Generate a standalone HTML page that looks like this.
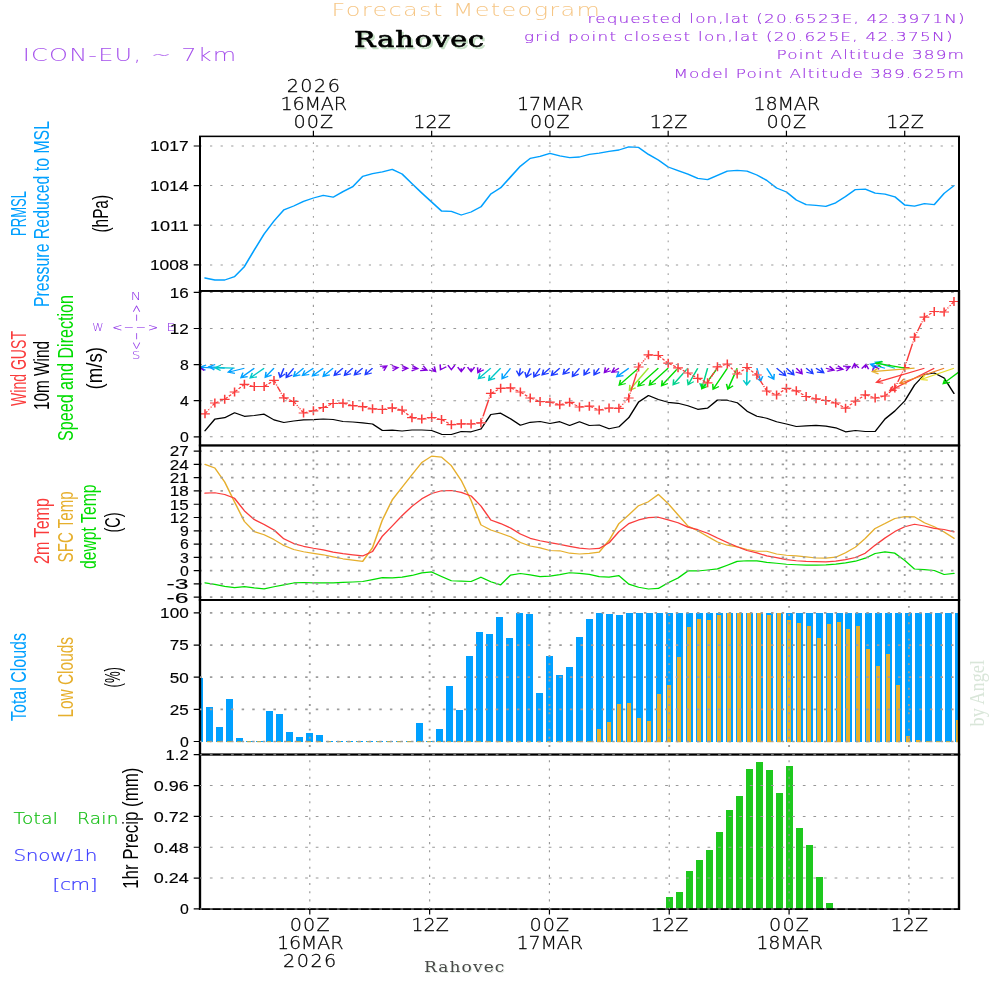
<!DOCTYPE html>
<html lang="en"><head><meta charset="utf-8"><title>Forecast Meteogram - Rahovec</title>
<style>html,body{margin:0;padding:0;background:#fff}body{width:1000px;height:1000px;overflow:hidden}svg{display:block}text{white-space:pre}</style>
</head><body>
<svg width="1000" height="1000" viewBox="0 0 1000 1000" role="img" aria-label="Forecast Meteogram Rahovec">
<rect width="1000" height="1000" fill="#fff"/>
<defs>
<clipPath id="c0"><rect x="200" y="136.36" width="759" height="154.54"/></clipPath>
<clipPath id="c1"><rect x="200" y="290.9" width="759" height="154.55"/></clipPath>
<clipPath id="c2"><rect x="200" y="445.45" width="759" height="154.55"/></clipPath>
<clipPath id="c3"><rect x="200" y="600" width="759" height="154.54"/></clipPath>
<clipPath id="c4"><rect x="200" y="754.54" width="759" height="154.54"/></clipPath>
<filter id="sh1" x="-10%" y="-30%" width="120%" height="170%" color-interpolation-filters="sRGB"><feOffset in="SourceAlpha" dx="2.2" dy="1.9" result="o"/><feFlood flood-color="#c4dfc4"/><feComposite in2="o" operator="in" result="s"/><feMerge><feMergeNode in="s"/><feMergeNode in="SourceGraphic"/></feMerge></filter>
<filter id="sh2" x="-10%" y="-30%" width="120%" height="170%" color-interpolation-filters="sRGB"><feOffset in="SourceAlpha" dx="1.1" dy="1" result="o"/><feFlood flood-color="#dfeadf"/><feComposite in2="o" operator="in" result="s"/><feMerge><feMergeNode in="s"/><feMergeNode in="SourceGraphic"/></feMerge></filter>
</defs>
<g id="titles">
<text transform="translate(331.5 16) scale(1.35 1)" font-family='"DejaVu Sans Light", "DejaVu Sans", "Liberation Sans", sans-serif' font-size="17.8" fill="#f6c685" textLength="198.89" lengthAdjust="spacing">Forecast Meteogram</text>
<g filter="url(#sh1)"><text transform="translate(354.1 47.3) scale(1.24 1)" font-family='"DejaVu Serif", "Liberation Serif", serif' font-size="23" fill="#000" textLength="104.84" lengthAdjust="spacing" stroke="#000" stroke-width="0.7" stroke-linejoin="round">Rahovec</text></g>
<text transform="translate(22.8 61.2) scale(1.4 1)" font-family='"DejaVu Sans Light", "DejaVu Sans", "Liberation Sans", sans-serif' font-size="17.2" fill="#a550ec" textLength="152.5" lengthAdjust="spacing">ICON-EU, ~ 7km</text>
<text transform="translate(587.5 22.7) scale(1.3 1)" font-family='"DejaVu Sans Light", "DejaVu Sans", "Liberation Sans", sans-serif' font-size="13" fill="#9c34e2" textLength="290" lengthAdjust="spacing" stroke="#9c34e2" stroke-width="0.15" stroke-linejoin="round">requested lon,lat (20.6523E, 42.3971N)</text>
<text transform="translate(524 41) scale(1.3 1)" font-family='"DejaVu Sans Light", "DejaVu Sans", "Liberation Sans", sans-serif' font-size="13" fill="#9c34e2" textLength="329.62" lengthAdjust="spacing" stroke="#9c34e2" stroke-width="0.15" stroke-linejoin="round">grid point closest lon,lat (20.625E, 42.375N)</text>
<text transform="translate(776.5 59.4) scale(1.3 1)" font-family='"DejaVu Sans Light", "DejaVu Sans", "Liberation Sans", sans-serif' font-size="13" fill="#9c34e2" textLength="144.23" lengthAdjust="spacing" stroke="#9c34e2" stroke-width="0.15" stroke-linejoin="round">Point Altitude 389m</text>
<text transform="translate(673.5 77.6) scale(1.3 1)" font-family='"DejaVu Sans Light", "DejaVu Sans", "Liberation Sans", sans-serif' font-size="13" fill="#9c34e2" textLength="223.46" lengthAdjust="spacing" stroke="#9c34e2" stroke-width="0.15" stroke-linejoin="round">Model Point Altitude 389.625m</text>
</g>
<g id="time-top">
<text transform="translate(293.4 128) scale(1.08 1)" font-family='"DejaVu Sans Light", "DejaVu Sans", "Liberation Sans", sans-serif' font-size="17.8" fill="#000" textLength="36.85" lengthAdjust="spacing" stroke="#000" stroke-width="0.25" stroke-linejoin="round">00Z</text>
<text transform="translate(280.5 110) scale(1.08 1)" font-family='"DejaVu Sans Light", "DejaVu Sans", "Liberation Sans", sans-serif' font-size="17.8" fill="#000" textLength="61.67" lengthAdjust="spacing" stroke="#000" stroke-width="0.25" stroke-linejoin="round">16MAR</text>
<text transform="translate(413.26 128) scale(1.08 1)" font-family='"DejaVu Sans Light", "DejaVu Sans", "Liberation Sans", sans-serif' font-size="17.8" fill="#000" textLength="34.81" lengthAdjust="spacing" stroke="#000" stroke-width="0.25" stroke-linejoin="round">12Z</text>
<text transform="translate(529.92 128) scale(1.08 1)" font-family='"DejaVu Sans Light", "DejaVu Sans", "Liberation Sans", sans-serif' font-size="17.8" fill="#000" textLength="36.85" lengthAdjust="spacing" stroke="#000" stroke-width="0.25" stroke-linejoin="round">00Z</text>
<text transform="translate(517.02 110) scale(1.08 1)" font-family='"DejaVu Sans Light", "DejaVu Sans", "Liberation Sans", sans-serif' font-size="17.8" fill="#000" textLength="61.67" lengthAdjust="spacing" stroke="#000" stroke-width="0.25" stroke-linejoin="round">17MAR</text>
<text transform="translate(649.78 128) scale(1.08 1)" font-family='"DejaVu Sans Light", "DejaVu Sans", "Liberation Sans", sans-serif' font-size="17.8" fill="#000" textLength="34.81" lengthAdjust="spacing" stroke="#000" stroke-width="0.25" stroke-linejoin="round">12Z</text>
<text transform="translate(766.44 128) scale(1.08 1)" font-family='"DejaVu Sans Light", "DejaVu Sans", "Liberation Sans", sans-serif' font-size="17.8" fill="#000" textLength="36.85" lengthAdjust="spacing" stroke="#000" stroke-width="0.25" stroke-linejoin="round">00Z</text>
<text transform="translate(753.54 110) scale(1.08 1)" font-family='"DejaVu Sans Light", "DejaVu Sans", "Liberation Sans", sans-serif' font-size="17.8" fill="#000" textLength="61.67" lengthAdjust="spacing" stroke="#000" stroke-width="0.25" stroke-linejoin="round">18MAR</text>
<text transform="translate(886.3 128) scale(1.08 1)" font-family='"DejaVu Sans Light", "DejaVu Sans", "Liberation Sans", sans-serif' font-size="17.8" fill="#000" textLength="34.81" lengthAdjust="spacing" stroke="#000" stroke-width="0.25" stroke-linejoin="round">12Z</text>
<text transform="translate(286.7 92) scale(1.08 1)" font-family='"DejaVu Sans Light", "DejaVu Sans", "Liberation Sans", sans-serif' font-size="17.8" fill="#000" textLength="49.26" lengthAdjust="spacing" stroke="#000" stroke-width="0.25" stroke-linejoin="round">2026</text>
<path d="M313.4 130.8V136M431.66 130.8V136M549.92 130.8V136M668.18 130.8V136M786.44 130.8V136M904.7 130.8V136" stroke="#000" stroke-width="1.2" fill="none"/>
</g>
<g id="time-bottom">
<text transform="translate(289.8 931) scale(1.08 1)" font-family='"DejaVu Sans Light", "DejaVu Sans", "Liberation Sans", sans-serif' font-size="17.8" fill="#000" textLength="36.85" lengthAdjust="spacing" stroke="#000" stroke-width="0.25" stroke-linejoin="round">00Z</text>
<text transform="translate(276.9 949) scale(1.08 1)" font-family='"DejaVu Sans Light", "DejaVu Sans", "Liberation Sans", sans-serif' font-size="17.8" fill="#000" textLength="61.67" lengthAdjust="spacing" stroke="#000" stroke-width="0.25" stroke-linejoin="round">16MAR</text>
<text transform="translate(411.22 931) scale(1.08 1)" font-family='"DejaVu Sans Light", "DejaVu Sans", "Liberation Sans", sans-serif' font-size="17.8" fill="#000" textLength="34.81" lengthAdjust="spacing" stroke="#000" stroke-width="0.25" stroke-linejoin="round">12Z</text>
<text transform="translate(529.44 931) scale(1.08 1)" font-family='"DejaVu Sans Light", "DejaVu Sans", "Liberation Sans", sans-serif' font-size="17.8" fill="#000" textLength="36.85" lengthAdjust="spacing" stroke="#000" stroke-width="0.25" stroke-linejoin="round">00Z</text>
<text transform="translate(516.54 949) scale(1.08 1)" font-family='"DejaVu Sans Light", "DejaVu Sans", "Liberation Sans", sans-serif' font-size="17.8" fill="#000" textLength="61.67" lengthAdjust="spacing" stroke="#000" stroke-width="0.25" stroke-linejoin="round">17MAR</text>
<text transform="translate(650.86 931) scale(1.08 1)" font-family='"DejaVu Sans Light", "DejaVu Sans", "Liberation Sans", sans-serif' font-size="17.8" fill="#000" textLength="34.81" lengthAdjust="spacing" stroke="#000" stroke-width="0.25" stroke-linejoin="round">12Z</text>
<text transform="translate(769.08 931) scale(1.08 1)" font-family='"DejaVu Sans Light", "DejaVu Sans", "Liberation Sans", sans-serif' font-size="17.8" fill="#000" textLength="36.85" lengthAdjust="spacing" stroke="#000" stroke-width="0.25" stroke-linejoin="round">00Z</text>
<text transform="translate(756.18 949) scale(1.08 1)" font-family='"DejaVu Sans Light", "DejaVu Sans", "Liberation Sans", sans-serif' font-size="17.8" fill="#000" textLength="61.67" lengthAdjust="spacing" stroke="#000" stroke-width="0.25" stroke-linejoin="round">18MAR</text>
<text transform="translate(890.5 931) scale(1.08 1)" font-family='"DejaVu Sans Light", "DejaVu Sans", "Liberation Sans", sans-serif' font-size="17.8" fill="#000" textLength="34.81" lengthAdjust="spacing" stroke="#000" stroke-width="0.25" stroke-linejoin="round">12Z</text>
<text transform="translate(283.1 966.7) scale(1.08 1)" font-family='"DejaVu Sans Light", "DejaVu Sans", "Liberation Sans", sans-serif' font-size="17.8" fill="#000" textLength="49.26" lengthAdjust="spacing" stroke="#000" stroke-width="0.25" stroke-linejoin="round">2026</text>
<path d="M309.8 909V914.6M429.62 909V914.6M549.44 909V914.6M669.26 909V914.6M789.08 909V914.6M908.9 909V914.6" stroke="#000" stroke-width="1.2" fill="none"/>
<g filter="url(#sh2)"><text transform="translate(423.9 972) scale(1.1 1)" font-family='"DejaVu Serif", "Liberation Serif", serif' font-size="15.5" fill="#4a4a4a" textLength="73.18" lengthAdjust="spacing">Rahovec</text></g>
</g>
<text transform="translate(984 726.5) rotate(-90)" font-family='"Liberation Serif", serif' font-size="22" fill="#d9e6d9" textLength="66.5" lengthAdjust="spacingAndGlyphs">by Angel</text>
<g id="p1">
<g clip-path="url(#c0)"><g transform="scale(1.17647 0.90909)">
<polyline points="174.25,305.8 182.62,308 191,308 199.38,304.26 207.75,293.26 216.13,275 224.51,257.4 232.88,243.1 241.26,230.78 249.64,226.6 258.01,221.54 266.39,217.8 274.77,214.94 283.14,216.92 291.52,210.76 299.9,205.26 308.27,194.04 316.65,190.96 325.03,188.98 333.4,186.34 341.78,191.4 350.16,201.96 358.53,212.3 366.91,222.2 375.29,232.1 383.66,232.54 392.04,236.5 400.42,233.2 408.79,227.48 417.17,213.4 425.55,206.58 433.93,194.7 442.3,182.82 450.68,174.24 459.06,172.04 467.43,168.74 475.81,171.38 484.19,173.36 492.56,172.7 500.94,169.84 509.32,168.52 517.69,166.54 526.07,165 534.45,161.48 542.82,162.14 551.2,169.84 559.58,176 567.95,183.7 576.33,187.66 584.71,191.62 593.08,196.24 601.46,197.56 609.84,192.94 618.21,188.32 626.59,187.44 634.97,188.32 643.34,192.5 651.72,198.44 660.1,206.8 668.47,211.2 676.85,220 685.23,225.06 693.6,225.94 701.98,227.04 710.36,223.08 718.73,216.26 727.11,208.56 735.49,208.12 743.87,212.52 752.24,213.62 760.62,216.48 769,225.5 777.37,226.82 785.75,223.96 794.13,225.06 802.5,212.74 810.88,204.16" fill="none" stroke="#00a0ff" stroke-width="1.45" stroke-linejoin="round" stroke-linecap="round"/>
</g></g>
<g transform="scale(1.17647 0.90909)">
<path d="M170 160.6H815.15M170 204.16H815.15M170 247.72H815.15M170 291.39H815.15" stroke="#9a9a9a" stroke-width="1.05" stroke-dasharray="1.9 7.1" stroke-dashoffset="0.5" fill="none"/>
<path d="M266.39 320V150M366.91 320V150M467.43 320V150M567.95 320V150M668.47 320V150M769 320V150" stroke="#9a9a9a" stroke-width="0.89" stroke-dasharray="1.9 7.1" stroke-dashoffset="0.45" fill="none"/>
<rect x="170" y="150" width="645.15" height="170" fill="none" stroke="#000" stroke-width="1.7"/>
<path d="M164.65 160.6H170M164.65 204.16H170M164.65 247.72H170M164.65 291.39H170" stroke="#000" stroke-width="1.3" fill="none"/>
</g>
<text transform="translate(149.9 151.3)" font-family='"Liberation Sans", sans-serif' font-size="14.8" fill="#000" textLength="38.8" lengthAdjust="spacingAndGlyphs" stroke="#000" stroke-width="0.15" stroke-linejoin="round">1017</text>
<text transform="translate(149.9 190.9)" font-family='"Liberation Sans", sans-serif' font-size="14.8" fill="#000" textLength="38.8" lengthAdjust="spacingAndGlyphs" stroke="#000" stroke-width="0.15" stroke-linejoin="round">1014</text>
<text transform="translate(149.9 230.5)" font-family='"Liberation Sans", sans-serif' font-size="14.8" fill="#000" textLength="38.8" lengthAdjust="spacingAndGlyphs" stroke="#000" stroke-width="0.15" stroke-linejoin="round">1011</text>
<text transform="translate(149.9 270.2)" font-family='"Liberation Sans", sans-serif' font-size="14.8" fill="#000" textLength="38.8" lengthAdjust="spacingAndGlyphs" stroke="#000" stroke-width="0.15" stroke-linejoin="round">1008</text>
<text transform="translate(26 236) rotate(-90)" font-family='"Liberation Sans", sans-serif' font-size="22" fill="#00a0ff" textLength="45" lengthAdjust="spacingAndGlyphs">PRMSL</text>
<text transform="translate(49 307) rotate(-90)" font-family='"Liberation Sans", sans-serif' font-size="21.5" fill="#00a0ff" textLength="186" lengthAdjust="spacingAndGlyphs">Pressure Reduced to MSL</text>
<text transform="translate(107.5 232.5) rotate(-90)" font-family='"Liberation Sans", sans-serif' font-size="21.5" fill="#000" textLength="37.5" lengthAdjust="spacingAndGlyphs">(hPa)</text>
</g>
<g id="p2">
<g clip-path="url(#c1)"><g transform="scale(1.17647 0.90909)">
<polyline points="174.25,473.88 182.62,461.01 191,459.47 199.38,454.08 207.75,457.93 216.13,457.05 224.51,455.62 232.88,461.89 241.26,464.75 249.64,463.1 258.01,461.78 266.39,461.56 274.77,460.9 283.14,461.45 291.52,463.65 299.9,464.2 308.27,465.08 316.65,466.4 325.03,473.55 333.4,473.22 341.78,474.1 350.16,473 358.53,473 366.91,473.55 375.29,477.73 383.66,477.95 392.04,474.65 400.42,474.98 408.79,471.9 417.17,455.95 425.55,454.52 433.93,460.68 442.3,467.72 450.68,464.53 459.06,463.65 467.43,465.85 475.81,463.87 484.19,468.05 492.56,463.98 500.94,468.05 509.32,467.5 517.69,471.68 526.07,469.48 534.45,459.47 542.82,442.2 551.2,435.05 559.58,439.45 567.95,442.53 576.33,443.63 584.71,446.38 593.08,450.23 601.46,449.02 609.84,440 618.21,440.22 626.59,442.97 634.97,452.32 643.34,457.82 651.72,460.02 660.1,463.98 668.47,466.4 676.85,469.15 685.23,468.38 693.6,467.83 701.98,468.82 710.36,470.58 718.73,474.98 727.11,473.55 735.49,474.65 743.87,474.65 752.24,460.9 760.62,452.1 769,441.1 777.37,423.5 785.75,411.95 794.13,410.3 802.5,415.8 810.88,432.85" fill="none" stroke="#000" stroke-width="1.3" stroke-linejoin="round" stroke-linecap="round"/>
<path d="M182.62 405.02L169.96 403.92M175.24 401.4L169.96 403.92L174.72 407.31" stroke="#00a0ff" stroke-width="1.3" fill="none" stroke-linejoin="miter"/>
<path d="M191 405.02L177.57 403.37M182.93 401.04L177.57 403.37L182.21 406.93" stroke="#00a0ff" stroke-width="1.3" fill="none" stroke-linejoin="miter"/>
<path d="M199.38 405.02L182.55 404.47M187.68 401.67L182.55 404.47L187.49 407.6" stroke="#00c8c8" stroke-width="1.3" fill="none" stroke-linejoin="miter"/>
<path d="M207.75 405.02L193.98 409.42M197.88 405.06L193.98 409.42L199.69 410.71" stroke="#00a0ff" stroke-width="1.3" fill="none" stroke-linejoin="miter"/>
<path d="M216.13 405.02L204.82 415.47M206.51 409.87L204.82 415.47L210.54 414.23" stroke="#00a0ff" stroke-width="1.3" fill="none" stroke-linejoin="miter"/>
<path d="M224.51 405.02L212.69 415.69M214.44 410.11L212.69 415.69L218.42 414.52" stroke="#00c8c8" stroke-width="1.3" fill="none" stroke-linejoin="miter"/>
<path d="M232.88 405.02L225.49 414.92M226.13 409.11L225.49 414.92L230.88 412.66" stroke="#00a0ff" stroke-width="1.3" fill="none" stroke-linejoin="miter"/>
<path d="M241.26 405.02L238.11 415.14M236.78 409.45L238.11 415.14L242.45 411.21" stroke="#1e3cff" stroke-width="1.3" fill="none" stroke-linejoin="miter"/>
<path d="M249.64 405.02L243.35 415.14M243.49 409.29L243.35 415.14L248.53 412.43" stroke="#1e3cff" stroke-width="1.3" fill="none" stroke-linejoin="miter"/>
<path d="M258.01 405.02L249.68 414.04M250.92 408.32L249.68 414.04L255.28 412.35" stroke="#00a0ff" stroke-width="1.3" fill="none" stroke-linejoin="miter"/>
<path d="M266.39 405.02L257.13 412.94M259.03 407.41L257.13 412.94L262.89 411.92" stroke="#00a0ff" stroke-width="1.3" fill="none" stroke-linejoin="miter"/>
<path d="M274.77 405.02L265.59 413.49M267.28 407.89L265.59 413.49L271.3 412.25" stroke="#00a0ff" stroke-width="1.3" fill="none" stroke-linejoin="miter"/>
<path d="M283.14 405.02L274.73 414.04M276 408.33L274.73 414.04L280.34 412.38" stroke="#00a0ff" stroke-width="1.3" fill="none" stroke-linejoin="miter"/>
<path d="M291.52 405.02L284.13 413.05M285.36 407.33L284.13 413.05L289.72 411.35" stroke="#1e3cff" stroke-width="1.3" fill="none" stroke-linejoin="miter"/>
<path d="M299.9 405.02L292.84 412.94M293.98 407.2L292.84 412.94L298.41 411.15" stroke="#1e3cff" stroke-width="1.3" fill="none" stroke-linejoin="miter"/>
<path d="M308.27 405.02L301.3 412.5M302.57 406.79L301.3 412.5L306.91 410.84" stroke="#1e3cff" stroke-width="1.3" fill="none" stroke-linejoin="miter"/>
<path d="M316.65 405.02L310.45 412.17M311.51 406.42L310.45 412.17L315.99 410.31" stroke="#1e3cff" stroke-width="1.3" fill="none" stroke-linejoin="miter"/>
<path d="M325.03 405.02L328.77 402.49M326.26 407.77L328.77 402.49L322.93 402.86" stroke="#8200dc" stroke-width="1.3" fill="none" stroke-linejoin="miter"/>
<path d="M333.4 405.02L338.33 404.47M333.65 407.98L338.33 404.47L333 402.08" stroke="#8200dc" stroke-width="1.3" fill="none" stroke-linejoin="miter"/>
<path d="M341.78 405.02L346.63 405.02M341.59 407.99L346.63 405.02L341.59 402.05" stroke="#8200dc" stroke-width="1.3" fill="none" stroke-linejoin="miter"/>
<path d="M350.16 405.02L355.17 405.57M349.84 407.97L355.17 405.57L350.49 402.07" stroke="#8200dc" stroke-width="1.3" fill="none" stroke-linejoin="miter"/>
<path d="M358.53 405.02L362.95 407.22M357.12 407.63L362.95 407.22L359.76 402.32" stroke="#8200dc" stroke-width="1.3" fill="none" stroke-linejoin="miter"/>
<path d="M366.91 405.02L370.23 408.87M364.69 406.99L370.23 408.87L369.19 403.11" stroke="#8200dc" stroke-width="1.3" fill="none" stroke-linejoin="miter"/>
<path d="M375.29 405.02L374.44 406.67M374.11 400.83L374.44 406.67L379.39 403.55" stroke="#8200dc" stroke-width="1.3" fill="none" stroke-linejoin="miter"/>
<path d="M383.66 405.02L383.66 406.67M380.7 401.63L383.66 406.67L386.63 401.63" stroke="#8200dc" stroke-width="1.3" fill="none" stroke-linejoin="miter"/>
<path d="M392.04 405.02L392.04 408.87M389.07 403.83L392.04 408.87L395.01 403.83" stroke="#8200dc" stroke-width="1.3" fill="none" stroke-linejoin="miter"/>
<path d="M400.42 405.02L400.42 408.87M397.45 403.83L400.42 408.87L403.39 403.83" stroke="#8200dc" stroke-width="1.3" fill="none" stroke-linejoin="miter"/>
<path d="M408.79 405.02L406.24 409.97M405.91 404.13L406.24 409.97L411.19 406.85" stroke="#8200dc" stroke-width="1.3" fill="none" stroke-linejoin="miter"/>
<path d="M417.17 405.02L406.72 416.57M407.9 410.84L406.72 416.57L412.3 414.83" stroke="#00c8c8" stroke-width="1.3" fill="none" stroke-linejoin="miter"/>
<path d="M425.55 405.02L415.43 418.44M416.1 412.63L415.43 418.44L420.84 416.2" stroke="#00c8c8" stroke-width="1.3" fill="none" stroke-linejoin="miter"/>
<path d="M433.93 405.02L426.79 416.57M426.91 410.72L426.79 416.57L431.96 413.84" stroke="#00a0ff" stroke-width="1.3" fill="none" stroke-linejoin="miter"/>
<path d="M442.3 405.02L441.28 413.05M438.97 407.68L441.28 413.05L444.86 408.42" stroke="#1e3cff" stroke-width="1.3" fill="none" stroke-linejoin="miter"/>
<path d="M450.68 405.02L447.45 414.92M446.19 409.21L447.45 414.92L451.83 411.05" stroke="#1e3cff" stroke-width="1.3" fill="none" stroke-linejoin="miter"/>
<path d="M459.06 405.02L453.87 414.7M453.63 408.86L453.87 414.7L458.87 411.66" stroke="#1e3cff" stroke-width="1.3" fill="none" stroke-linejoin="miter"/>
<path d="M467.43 405.02L460.89 412.39M462.01 406.65L460.89 412.39L466.45 410.59" stroke="#1e3cff" stroke-width="1.3" fill="none" stroke-linejoin="miter"/>
<path d="M475.81 405.02L468.75 413.05M469.85 407.3L468.75 413.05L474.31 411.22" stroke="#1e3cff" stroke-width="1.3" fill="none" stroke-linejoin="miter"/>
<path d="M484.19 405.02L478.75 411.62M479.66 405.84L478.75 411.62L484.24 409.62" stroke="#1e3cff" stroke-width="1.3" fill="none" stroke-linejoin="miter"/>
<path d="M492.56 405.02L486.61 414.15M486.88 408.31L486.61 414.15L491.85 411.55" stroke="#1e3cff" stroke-width="1.3" fill="none" stroke-linejoin="miter"/>
<path d="M500.94 405.02L496.52 412.39M496.57 406.54L496.52 412.39L501.66 409.59" stroke="#1e3cff" stroke-width="1.3" fill="none" stroke-linejoin="miter"/>
<path d="M509.32 405.02L504.98 412.39M504.98 406.54L504.98 412.39L510.1 409.55" stroke="#1e3cff" stroke-width="1.3" fill="none" stroke-linejoin="miter"/>
<path d="M517.69 405.02L513.78 409.97M514.58 404.17L513.78 409.97L519.24 407.86" stroke="#8200dc" stroke-width="1.3" fill="none" stroke-linejoin="miter"/>
<path d="M526.07 405.02L520.12 409.64M522.28 404.2L520.12 409.64L525.92 408.89" stroke="#8200dc" stroke-width="1.3" fill="none" stroke-linejoin="miter"/>
<path d="M534.45 405.02L524.25 414.37M525.96 408.78L524.25 414.37L529.97 413.15" stroke="#00a0ff" stroke-width="1.3" fill="none" stroke-linejoin="miter"/>
<path d="M542.82 405.02L526.33 423.72M527.44 417.98L526.33 423.72L531.89 421.9" stroke="#00dc00" stroke-width="1.3" fill="none" stroke-linejoin="miter"/>
<path d="M551.2 405.02L535.05 429.22M535.38 423.38L535.05 429.22L540.32 426.68" stroke="#a0e632" stroke-width="1.3" fill="none" stroke-linejoin="miter"/>
<path d="M559.58 405.02L542.41 424.82M543.47 419.07L542.41 424.82L547.95 422.96" stroke="#00dc00" stroke-width="1.3" fill="none" stroke-linejoin="miter"/>
<path d="M567.95 405.02L551.97 423.72M552.99 417.96L551.97 423.72L557.51 421.82" stroke="#00dc00" stroke-width="1.3" fill="none" stroke-linejoin="miter"/>
<path d="M576.33 405.02L562.39 424.27M562.94 418.45L562.39 424.27L567.75 421.93" stroke="#00dc00" stroke-width="1.3" fill="none" stroke-linejoin="miter"/>
<path d="M584.71 405.02L572.21 423.17M572.62 417.33L572.21 423.17L577.52 420.7" stroke="#00d28c" stroke-width="1.3" fill="none" stroke-linejoin="miter"/>
<path d="M593.08 405.02L584.92 423.17M584.28 417.36L584.92 423.17L589.7 419.79" stroke="#00d28c" stroke-width="1.3" fill="none" stroke-linejoin="miter"/>
<path d="M601.46 405.02L596.62 427.02M594.8 421.46L596.62 427.02L600.6 422.74" stroke="#00d28c" stroke-width="1.3" fill="none" stroke-linejoin="miter"/>
<path d="M609.84 405.02L596.58 427.57M596.57 421.72L596.58 427.57L601.69 424.73" stroke="#00dc00" stroke-width="1.3" fill="none" stroke-linejoin="miter"/>
<path d="M618.21 405.02L606.14 428.12M605.85 422.28L606.14 428.12L611.11 425.03" stroke="#00dc00" stroke-width="1.3" fill="none" stroke-linejoin="miter"/>
<path d="M626.59 405.02L618.69 428.12M617.51 422.39L618.69 428.12L623.13 424.31" stroke="#00dc00" stroke-width="1.3" fill="none" stroke-linejoin="miter"/>
<path d="M634.97 405.02L634.71 423.39M631.81 418.31L634.71 423.39L637.75 418.39" stroke="#00c8c8" stroke-width="1.3" fill="none" stroke-linejoin="miter"/>
<path d="M643.34 405.02L646.49 419.32M642.51 415.04L646.49 419.32L648.31 413.76" stroke="#00a0ff" stroke-width="1.3" fill="none" stroke-linejoin="miter"/>
<path d="M651.72 405.02L657.67 417.12M652.78 413.91L657.67 417.12L658.11 411.29" stroke="#00a0ff" stroke-width="1.3" fill="none" stroke-linejoin="miter"/>
<path d="M660.1 405.02L667.75 413.27M662.14 411.59L667.75 413.27L666.5 407.56" stroke="#1e3cff" stroke-width="1.3" fill="none" stroke-linejoin="miter"/>
<path d="M668.47 405.02L674.76 412.39M669.23 410.48L674.76 412.39L673.75 406.63" stroke="#1e3cff" stroke-width="1.3" fill="none" stroke-linejoin="miter"/>
<path d="M676.85 405.02L681.78 411.29M676.33 409.16L681.78 411.29L681 405.49" stroke="#8200dc" stroke-width="1.3" fill="none" stroke-linejoin="miter"/>
<path d="M685.23 405.02L691.01 411.07M685.38 409.48L691.01 411.07L689.67 405.37" stroke="#1e3cff" stroke-width="1.3" fill="none" stroke-linejoin="miter"/>
<path d="M693.6 405.02L700.15 409.97M694.34 409.3L700.15 409.97L697.92 404.56" stroke="#1e3cff" stroke-width="1.3" fill="none" stroke-linejoin="miter"/>
<path d="M701.98 405.02L708.95 407.22M703.25 408.53L708.95 407.22L705.04 402.87" stroke="#8200dc" stroke-width="1.3" fill="none" stroke-linejoin="miter"/>
<path d="M710.36 405.02L716.56 406.12M711.08 408.16L716.56 406.12L712.12 402.32" stroke="#8200dc" stroke-width="1.3" fill="none" stroke-linejoin="miter"/>
<path d="M718.73 405.02L722.39 403.15M719.25 408.09L722.39 403.15L716.55 402.8" stroke="#8200dc" stroke-width="1.3" fill="none" stroke-linejoin="miter"/>
<path d="M727.11 405.02L726.35 400.07M730.05 404.6L726.35 400.07L724.18 405.51" stroke="#8200dc" stroke-width="1.3" fill="none" stroke-linejoin="miter"/>
<path d="M735.49 405.02L736.08 400.84M738.31 406.25L736.08 400.84L732.43 405.41" stroke="#8200dc" stroke-width="1.3" fill="none" stroke-linejoin="miter"/>
<path d="M743.87 405.02L743.02 402.27M747.34 406.21L743.02 402.27L741.67 407.96" stroke="#8200dc" stroke-width="1.3" fill="none" stroke-linejoin="miter"/>
<path d="M169.58 404.03L173.66 407.66" stroke="#8200dc" stroke-width="1.5" fill="none"/>
<path d="M170.08 455.18H178.41M174.25 450.23V460.13M178.46 443.3H186.79M182.62 438.35V448.25M186.83 439.23H195.16M191 434.28V444.18M195.21 431.2H203.54M199.38 426.25V436.15M203.59 422.73H211.92M207.75 417.78V427.68M211.96 425.15H220.29M216.13 420.2V430.1M220.34 425.15H228.67M224.51 420.2V430.1M228.72 418.44H237.05M232.88 413.49V423.39M237.09 437.58H245.42M241.26 432.63V442.53M245.47 441.54H253.8M249.64 436.59V446.49M253.85 454.3H262.18M258.01 449.35V459.25M262.23 451.88H270.56M266.39 446.93V456.83M270.6 448.25H278.93M274.77 443.3V453.2M278.98 443.85H287.31M283.14 438.9V448.8M287.36 443.52H295.69M291.52 438.57V448.47M295.73 446.16H304.06M299.9 441.21V451.11M304.11 447.37H312.44M308.27 442.42V452.32M312.49 449.68H320.82M316.65 444.73V454.63M320.86 450.45H329.19M325.03 445.5V455.4M329.24 448.58H337.57M333.4 443.63V453.53M337.62 451.22H345.95M341.78 446.27V456.17M345.99 459.47H354.32M350.16 454.52V464.42M354.37 460.9H362.7M358.53 455.95V465.85M362.75 459.25H371.08M366.91 454.3V464.2M371.12 461.45H379.45M375.29 456.5V466.4M379.5 467.17H387.83M383.66 462.22V472.12M387.88 466.18H396.21M392.04 461.23V471.13M396.25 466.4H404.58M400.42 461.45V471.35M404.63 465.08H412.96M408.79 460.13V470.03M413.01 432.74H421.34M417.17 427.79V437.69M421.38 427.13H429.71M425.55 422.18V432.08M429.76 426.58H438.09M433.93 421.63V431.53M438.14 431.2H446.47M442.3 426.25V436.15M446.51 437.8H454.84M450.68 432.85V442.75M454.89 441.65H463.22M459.06 436.7V446.6M463.27 442.42H471.6M467.43 437.47V447.37M471.64 445.28H479.97M475.81 440.33V450.23M480.02 442.53H488.35M484.19 437.58V447.48M488.4 447.7H496.73M492.56 442.75V452.65M496.77 446.82H505.1M500.94 441.87V451.77M505.15 451H513.48M509.32 446.05V455.95M513.53 448.8H521.86M517.69 443.85V453.75M521.9 449.13H530.23M526.07 444.18V454.08M530.28 437.8H538.61M534.45 432.85V442.75M538.66 403.7H546.99M542.82 398.75V408.65M547.03 390.28H555.36M551.2 385.33V395.23M555.41 391.05H563.74M559.58 386.1V396M563.79 399.52H572.12M567.95 394.57V404.47M572.17 404.58H580.5M576.33 399.63V409.53M580.54 410.3H588.87M584.71 405.35V415.25M588.92 416.13H597.25M593.08 411.18V421.08M597.3 421.08H605.63M601.46 416.13V426.03M605.67 403.48H614M609.84 398.53V408.43M614.05 400.4H622.38M618.21 395.45V405.35M622.43 411.4H630.76M626.59 406.45V416.35M630.8 404.25H639.13M634.97 399.3V409.2M639.18 412.5H647.51M643.34 407.55V417.45M647.56 430.1H655.89M651.72 425.15V435.05M655.93 434.5H664.26M660.1 429.55V439.45M664.31 427.13H672.64M668.47 422.18V432.08M672.69 429.88H681.02M676.85 424.93V434.83M681.06 436.15H689.39M685.23 431.2V441.1M689.44 438.68H697.77M693.6 433.73V443.63M697.82 440.55H706.15M701.98 435.6V445.5M706.19 443.3H714.52M710.36 438.35V448.25M714.57 449.02H722.9M718.73 444.07V453.97M722.95 441.32H731.28M727.11 436.37V446.27M731.32 434.28H739.65M735.49 429.33V439.23M739.7 437.8H748.03M743.87 432.85V442.75M748.08 435.6H756.41M752.24 430.65V440.55M756.45 426.8H764.78M760.62 421.85V431.75M764.83 404.25H773.16M769 399.3V409.2M773.21 370.92H781.54M777.37 365.97V375.87M781.58 348.92H789.91M785.75 343.97V353.87M789.96 342.65H798.29M794.13 337.7V347.6M798.34 343.2H806.67M802.5 338.25V348.15M806.71 331.65H815.04M810.88 326.7V336.6" stroke="#fff" stroke-width="2.4" fill="none" opacity="0.5"/>
<path d="M174.71 454.53L177.7 450.28M182.16 443.95L179.17 448.2M183.34 442.95L190.28 439.58M191.58 438.68L198.8 431.75M199.94 430.63L207.19 423.3M208.52 422.95L215.36 424.93M216.93 425.15L223.71 425.15M225.13 424.65L232.26 418.94M233.2 419.17L235.29 423.94M240.94 436.85L238.85 432.08M241.98 437.92L248.91 441.2M250.08 442.21L252.93 446.56M257.57 453.63L254.72 449.28M258.78 454.08L265.62 452.1M267.12 451.56L274.03 448.57M275.48 447.88L282.44 444.22M283.94 443.82L290.72 443.55M292.28 443.76L299.13 445.92M300.69 446.27L307.48 447.26M309.05 447.58L315.88 449.47M317.45 449.75L324.23 450.38M325.81 450.28L332.62 448.75M334.17 448.82L341.02 450.98M342.35 451.78L349.59 458.91M350.95 459.61L357.75 460.77M359.32 460.75L366.13 459.41M367.68 459.45L374.51 461.25M375.95 461.9L383 466.72M384.46 467.08L391.25 466.27M392.84 466.2L399.62 466.38M401.21 466.28L408 465.2M409 464.31L410.3 459.27M416.97 433.51L415.67 438.55M417.84 432.3L424.88 427.58M426.35 427.08L433.13 426.63M434.63 426.97L441.6 430.81M442.93 431.7L450.05 437.31M451.41 438.13L458.33 441.32M459.85 441.72L466.64 442.35M468.19 442.68L475.05 445.02M476.57 445.03L483.43 442.78M484.87 442.95L491.88 447.28M493.36 447.62L500.14 446.9M501.66 447.18L508.6 450.64M510.09 450.8L516.92 449M518.49 448.83L525.27 449.1M526.55 448.49L529.64 444.31M533.97 438.44L530.88 442.63M534.64 437.02L535.88 431.97M542.63 404.48L541.39 409.53M543.25 403.02L546 398.61M550.78 390.96L548.02 395.37M552 390.35L558.78 390.98M560.14 391.62L567.39 398.95M568.64 399.93L575.65 404.17M576.99 405.03L584.05 409.85M585.36 410.76L592.43 415.67M593.77 416.54L600.77 420.67M601.8 420.36L604.04 415.66M609.49 404.2L607.26 408.9M610.59 403.2L617.46 400.68M618.7 401.04L626.11 410.76M627.2 410.88L634.36 404.77M635.54 404.81L642.77 411.94M643.69 413.22L645.92 417.92M651.38 429.38L649.14 424.68M652.43 430.47L659.39 434.13M660.7 433.97L667.87 427.66M669.23 427.38L676.09 429.63M677.49 430.36L684.59 435.67M685.99 436.38L692.84 438.45M694.39 438.85L701.2 440.38M702.74 440.8L709.6 443.05M711.02 443.75L718.07 448.57M719.32 448.48L726.52 441.86M727.72 440.81L734.88 434.8M736.23 434.59L743.13 437.49M744.64 437.6L751.47 435.8M752.79 435.02L760.07 427.38M760.9 426.05L762.71 421.18M768.72 405L766.91 409.87M769.19 403.47L770.46 398.43M777.18 371.7L775.91 376.74M777.66 370.17L779.51 365.31M785.46 349.67L783.61 354.53M786.39 348.44L793.49 343.13M794.92 342.7L801.7 343.15M802.97 342.55L806.03 338.34M810.41 332.3L807.36 336.51" stroke="#fa3c3c" stroke-width="1.25" fill="none" stroke-dasharray="2.6 1.5"/>
<path d="M178.39 449.3L178.47 449.18M235.77 425.04L238.37 430.98M253.59 447.56L254.06 448.28M410.6 458.11L415.37 439.71M530.35 443.34L530.17 443.59M536.16 430.81L541.11 410.69M546.64 397.59L547.39 396.39M604.55 414.58L606.74 409.98M646.44 419L648.63 423.6M763.13 420.05L766.49 411M770.75 397.27L775.62 377.9M779.93 364.19L783.19 355.65M806.73 337.37L806.65 337.48" stroke="#fa3c3c" stroke-width="1.25" fill="none"/>
<path d="M170.08 455.18H178.41M174.25 450.23V460.13M178.46 443.3H186.79M182.62 438.35V448.25M186.83 439.23H195.16M191 434.28V444.18M195.21 431.2H203.54M199.38 426.25V436.15M203.59 422.73H211.92M207.75 417.78V427.68M211.96 425.15H220.29M216.13 420.2V430.1M220.34 425.15H228.67M224.51 420.2V430.1M228.72 418.44H237.05M232.88 413.49V423.39M237.09 437.58H245.42M241.26 432.63V442.53M245.47 441.54H253.8M249.64 436.59V446.49M253.85 454.3H262.18M258.01 449.35V459.25M262.23 451.88H270.56M266.39 446.93V456.83M270.6 448.25H278.93M274.77 443.3V453.2M278.98 443.85H287.31M283.14 438.9V448.8M287.36 443.52H295.69M291.52 438.57V448.47M295.73 446.16H304.06M299.9 441.21V451.11M304.11 447.37H312.44M308.27 442.42V452.32M312.49 449.68H320.82M316.65 444.73V454.63M320.86 450.45H329.19M325.03 445.5V455.4M329.24 448.58H337.57M333.4 443.63V453.53M337.62 451.22H345.95M341.78 446.27V456.17M345.99 459.47H354.32M350.16 454.52V464.42M354.37 460.9H362.7M358.53 455.95V465.85M362.75 459.25H371.08M366.91 454.3V464.2M371.12 461.45H379.45M375.29 456.5V466.4M379.5 467.17H387.83M383.66 462.22V472.12M387.88 466.18H396.21M392.04 461.23V471.13M396.25 466.4H404.58M400.42 461.45V471.35M404.63 465.08H412.96M408.79 460.13V470.03M413.01 432.74H421.34M417.17 427.79V437.69M421.38 427.13H429.71M425.55 422.18V432.08M429.76 426.58H438.09M433.93 421.63V431.53M438.14 431.2H446.47M442.3 426.25V436.15M446.51 437.8H454.84M450.68 432.85V442.75M454.89 441.65H463.22M459.06 436.7V446.6M463.27 442.42H471.6M467.43 437.47V447.37M471.64 445.28H479.97M475.81 440.33V450.23M480.02 442.53H488.35M484.19 437.58V447.48M488.4 447.7H496.73M492.56 442.75V452.65M496.77 446.82H505.1M500.94 441.87V451.77M505.15 451H513.48M509.32 446.05V455.95M513.53 448.8H521.86M517.69 443.85V453.75M521.9 449.13H530.23M526.07 444.18V454.08M530.28 437.8H538.61M534.45 432.85V442.75M538.66 403.7H546.99M542.82 398.75V408.65M547.03 390.28H555.36M551.2 385.33V395.23M555.41 391.05H563.74M559.58 386.1V396M563.79 399.52H572.12M567.95 394.57V404.47M572.17 404.58H580.5M576.33 399.63V409.53M580.54 410.3H588.87M584.71 405.35V415.25M588.92 416.13H597.25M593.08 411.18V421.08M597.3 421.08H605.63M601.46 416.13V426.03M605.67 403.48H614M609.84 398.53V408.43M614.05 400.4H622.38M618.21 395.45V405.35M622.43 411.4H630.76M626.59 406.45V416.35M630.8 404.25H639.13M634.97 399.3V409.2M639.18 412.5H647.51M643.34 407.55V417.45M647.56 430.1H655.89M651.72 425.15V435.05M655.93 434.5H664.26M660.1 429.55V439.45M664.31 427.13H672.64M668.47 422.18V432.08M672.69 429.88H681.02M676.85 424.93V434.83M681.06 436.15H689.39M685.23 431.2V441.1M689.44 438.68H697.77M693.6 433.73V443.63M697.82 440.55H706.15M701.98 435.6V445.5M706.19 443.3H714.52M710.36 438.35V448.25M714.57 449.02H722.9M718.73 444.07V453.97M722.95 441.32H731.28M727.11 436.37V446.27M731.32 434.28H739.65M735.49 429.33V439.23M739.7 437.8H748.03M743.87 432.85V442.75M748.08 435.6H756.41M752.24 430.65V440.55M756.45 426.8H764.78M760.62 421.85V431.75M764.83 404.25H773.16M769 399.3V409.2M773.21 370.92H781.54M777.37 365.97V375.87M781.58 348.92H789.91M785.75 343.97V353.87M789.96 342.65H798.29M794.13 337.7V347.6M798.34 343.2H806.67M802.5 338.25V348.15M806.71 331.65H815.04M810.88 326.7V336.6" stroke="#fa3c3c" stroke-width="1.3" fill="none"/>
<path d="M752.24 405.02L739.92 400.62M745.66 399.52L739.92 400.62L743.67 405.11" stroke="#00a0ff" stroke-width="1.3" fill="none" stroke-linejoin="miter"/>
<path d="M760.62 405.02L744.04 398.42M749.82 397.53L744.04 398.42L747.63 403.04" stroke="#00c8c8" stroke-width="1.3" fill="none" stroke-linejoin="miter"/>
<path d="M769 405.02L744.69 399.52M750.26 397.74L744.69 399.52L748.95 403.53" stroke="#00dc00" stroke-width="1.3" fill="none" stroke-linejoin="miter"/>
<path d="M777.37 405.02L741.42 408.87M746.11 405.38L741.42 408.87L746.75 411.29" stroke="#e6af2d" stroke-width="1.3" fill="none" stroke-linejoin="miter"/>
<path d="M785.75 405.02L744.95 420.64M748.59 416.07L744.95 420.64L750.72 421.61" stroke="#fa3c3c" stroke-width="1.3" fill="none" stroke-linejoin="miter"/>
<path d="M794.13 405.02L756.3 429.77M758.89 424.53L756.3 429.77L762.14 429.5" stroke="#fa3c3c" stroke-width="1.3" fill="none" stroke-linejoin="miter"/>
<path d="M802.5 405.02L764.85 421.52M768.27 416.78L764.85 421.52L770.66 422.22" stroke="#f08228" stroke-width="1.3" fill="none" stroke-linejoin="miter"/>
<path d="M810.88 405.02L782.83 417.45M786.23 412.69L782.83 417.45L788.64 418.12" stroke="#e6dc32" stroke-width="1.3" fill="none" stroke-linejoin="miter"/>
<path d="M819.26 405.02L801.75 422.07M803.29 416.43L801.75 422.07L807.43 420.68" stroke="#00dc00" stroke-width="1.3" fill="none" stroke-linejoin="miter"/>
</g></g>
<g transform="scale(1.17647 0.90909)">
<path d="M170 321.64H815.15M170 361.35H815.15M170 401.06H815.15M170 440.77H815.15M170 480.48H815.15" stroke="#989898" stroke-width="1.15" stroke-dasharray="2.3 6.7" stroke-dashoffset="0.6" fill="none"/>
<path d="M266.39 490V320M366.91 490V320M467.43 490V320M567.95 490V320M668.47 490V320M769 490V320" stroke="#989898" stroke-width="0.98" stroke-dasharray="2.3 6.7" stroke-dashoffset="0.6" fill="none"/>
<rect x="170" y="320" width="645.15" height="170" fill="none" stroke="#000" stroke-width="2"/>
<path d="M164.65 321.64H170M164.65 361.35H170M164.65 401.06H170M164.65 440.77H170M164.65 480.48H170" stroke="#000" stroke-width="1.3" fill="none"/>
</g>
<text transform="translate(169.7 297.7)" font-family='"Liberation Sans", sans-serif' font-size="14.8" fill="#000" textLength="19" lengthAdjust="spacingAndGlyphs" stroke="#000" stroke-width="0.15" stroke-linejoin="round">16</text>
<text transform="translate(169.7 333.8)" font-family='"Liberation Sans", sans-serif' font-size="14.8" fill="#000" textLength="19" lengthAdjust="spacingAndGlyphs" stroke="#000" stroke-width="0.15" stroke-linejoin="round">12</text>
<text transform="translate(179.9 369.9)" font-family='"Liberation Sans", sans-serif' font-size="14.8" fill="#000" textLength="8.8" lengthAdjust="spacingAndGlyphs" stroke="#000" stroke-width="0.15" stroke-linejoin="round">8</text>
<text transform="translate(179.9 406)" font-family='"Liberation Sans", sans-serif' font-size="14.8" fill="#000" textLength="8.8" lengthAdjust="spacingAndGlyphs" stroke="#000" stroke-width="0.15" stroke-linejoin="round">4</text>
<text transform="translate(179.9 442.1)" font-family='"Liberation Sans", sans-serif' font-size="14.8" fill="#000" textLength="8.8" lengthAdjust="spacingAndGlyphs" stroke="#000" stroke-width="0.15" stroke-linejoin="round">0</text>
<text transform="translate(26 406) rotate(-90)" font-family='"Liberation Sans", sans-serif' font-size="22" fill="#fa3c3c" textLength="75" lengthAdjust="spacingAndGlyphs">Wind GUST</text>
<text transform="translate(49 410) rotate(-90)" font-family='"Liberation Sans", sans-serif' font-size="21.5" fill="#000" textLength="69" lengthAdjust="spacingAndGlyphs">10m Wind</text>
<text transform="translate(73 441) rotate(-90)" font-family='"Liberation Sans", sans-serif' font-size="21.5" fill="#00dc00" textLength="146" lengthAdjust="spacingAndGlyphs">Speed and Direction</text>
<text transform="translate(102 389.5) rotate(-90)" font-family='"Liberation Sans", sans-serif' font-size="21.5" fill="#000" textLength="42.5" lengthAdjust="spacingAndGlyphs">(m/s)</text>
<text transform="translate(136 299.5) scale(1.3 1)" font-family='"DejaVu Sans Light", "DejaVu Sans", "Liberation Sans", sans-serif' font-size="10.6" fill="#8c2ee6" text-anchor="middle">N</text>
<text transform="translate(136.2 358.7) scale(1.3 1)" font-family='"DejaVu Sans Light", "DejaVu Sans", "Liberation Sans", sans-serif' font-size="10.6" fill="#8c2ee6" text-anchor="middle">S</text>
<text transform="translate(98 331.2) scale(1.08 1)" font-family='"DejaVu Sans Light", "DejaVu Sans", "Liberation Sans", sans-serif' font-size="10.6" fill="#8c2ee6" text-anchor="middle">W</text>
<text transform="translate(170.8 331.2) scale(1.3 1)" font-family='"DejaVu Sans Light", "DejaVu Sans", "Liberation Sans", sans-serif' font-size="10.6" fill="#8c2ee6" text-anchor="middle">E</text>
<text transform="translate(112.3 330.7) scale(1.15 1)" x="0 10 20.43 30.96" font-family='"DejaVu Sans Light", "DejaVu Sans", "Liberation Sans", sans-serif' font-size="10.6" fill="#8c2ee6" stroke="#8c2ee6" stroke-width="0.18">&lt;−−&gt;</text>
<text transform="translate(140.6 349.65) rotate(-90) scale(0.69 1)" x="0 13.61 26.2 40.47 53.42" font-family='"DejaVu Sans Light", "DejaVu Sans", "Liberation Sans", sans-serif' font-size="13.7" fill="#8c2ee6" stroke="#8c2ee6" stroke-width="0.18">&lt;− −&gt;</text>
</g>
<g id="p3">
<g clip-path="url(#c2)"><g transform="scale(1.17647 0.90909)">
<polyline points="174.25,641.08 182.62,642.84 191,644.95 199.38,646.36 207.75,645.3 216.13,646.71 224.51,647.77 232.88,645.48 241.26,643.37 249.64,641.26 258.01,640.73 266.39,641.08 274.77,641.26 283.14,641.08 291.52,640.55 299.9,640.2 308.27,639.67 316.65,637.56 325.03,635.45 333.4,635.62 341.78,634.92 350.16,632.98 358.53,630.17 366.91,629.11 375.29,634.04 383.66,638.79 392.04,639.32 400.42,639.67 408.79,634.92 417.17,639.85 425.55,643.37 433.93,632.63 442.3,630.87 450.68,632.28 459.06,634.22 467.43,633.69 475.81,632.1 484.19,629.99 492.56,630.7 500.94,631.75 509.32,634.22 517.69,634.92 526.07,633.16 534.45,642.49 542.82,646.01 551.2,647.94 559.58,647.24 567.95,641.08 576.33,635.8 584.71,628.06 593.08,628.06 601.46,627 609.84,625.77 618.21,621.72 626.59,617.5 634.97,616.79 643.34,616.97 651.72,618.55 660.1,619.61 668.47,620.66 676.85,621.19 685.23,621.54 693.6,621.72 701.98,621.37 710.36,620.49 718.73,619.08 727.11,617.32 735.49,613.98 743.87,608.87 752.24,607.11 760.62,608.52 769,616.44 777.37,625.94 785.75,626.65 794.13,627.53 802.5,631.93 810.88,630.7" fill="none" stroke="#00dc00" stroke-width="1.3" stroke-linejoin="round" stroke-linecap="round"/>
<polyline points="174.25,510.84 182.62,514.89 191,530.2 199.38,552.2 207.75,573.67 216.13,584.76 224.51,588.28 232.88,593.56 241.26,600.07 249.64,604.47 258.01,606.94 266.39,608.7 274.77,610.28 283.14,612.57 291.52,614.68 299.9,616.09 308.27,617.5 316.65,602.36 325.03,571.91 333.4,549.91 341.78,536.01 350.16,522.28 358.53,508.73 366.91,501.69 375.29,502.92 383.66,512.25 392.04,528.44 400.42,550.44 408.79,577.37 417.17,583 425.55,586.52 433.93,590.39 442.3,596.73 450.68,600.6 459.06,602.71 467.43,605.53 475.81,605.88 484.19,608.52 492.56,609.4 500.94,608.7 509.32,607.29 517.69,594.44 526.07,575.96 534.45,566.28 542.82,556.25 551.2,551.85 559.58,543.93 567.95,553.96 576.33,566.28 584.71,578.6 593.08,583.88 601.46,590.04 609.84,596.2 618.21,599.72 626.59,601.48 634.97,604.47 643.34,606.41 651.72,606.41 660.1,609.4 668.47,610.81 676.85,611.51 685.23,612.57 693.6,613.8 701.98,613.98 710.36,612.92 718.73,607.99 727.11,601.83 735.49,592.15 743.87,581.24 752.24,575.96 760.62,570.33 769,568.22 777.37,568.57 785.75,575.08 794.13,579.48 802.5,585.29 810.88,592.15" fill="none" stroke="#e6af2d" stroke-width="1.3" stroke-linejoin="round" stroke-linecap="round"/>
<polyline points="174.25,542.52 182.62,541.99 191,543.93 199.38,548.15 207.75,561.88 216.13,571.56 224.51,576.84 232.88,583 241.26,592.68 249.64,597.96 258.01,600.95 266.39,603.06 274.77,604.82 283.14,607.29 291.52,609.05 299.9,610.28 308.27,611.51 316.65,606.76 325.03,589.69 333.4,578.6 341.78,567.16 350.16,556.95 358.53,548.68 366.91,542.87 375.29,539.88 383.66,539.53 392.04,541.64 400.42,545.51 408.79,556.6 417.17,571.91 425.55,575.96 433.93,580.71 442.3,587.4 450.68,592.15 459.06,594.79 467.43,596.9 475.81,598.84 484.19,600.95 492.56,602.89 500.94,603.94 509.32,603.24 517.69,597.08 526.07,584.76 534.45,575.96 542.82,571.91 551.2,569.45 559.58,568.92 567.95,571.91 576.33,575.08 584.71,579.83 593.08,582.65 601.46,586.52 609.84,591.8 618.21,596.73 626.59,601.48 634.97,605.53 643.34,608.17 651.72,611.51 660.1,613.45 668.47,615.56 676.85,616.79 685.23,617.5 693.6,617.85 701.98,618.02 710.36,617.32 718.73,615.56 727.11,613.27 735.49,608.52 743.87,599.72 752.24,591.8 760.62,584.76 769,579.48 777.37,576.66 785.75,578.6 794.13,581.24 802.5,582.47 810.88,585.11" fill="none" stroke="#fa3c3c" stroke-width="1.3" stroke-linejoin="round" stroke-linecap="round"/>
</g></g>
<g transform="scale(1.17647 0.90909)">
<path d="M170 496.21H815.15M170 510.82H815.15M170 525.43H815.15M170 540.04H815.15M170 554.65H815.15M170 569.26H815.15M170 583.87H815.15M170 598.48H815.15M170 613.09H815.15M170 627.7H815.15M170 642.31H815.15M170 656.92H815.15" stroke="#9c9c9c" stroke-width="1.85" stroke-dasharray="2.1 6.9" stroke-dashoffset="0.6" fill="none"/>
<path d="M266.39 660V490M366.91 660V490M467.43 660V490M567.95 660V490M668.47 660V490M769 660V490" stroke="#9c9c9c" stroke-width="1.57" stroke-dasharray="2.1 6.9" stroke-dashoffset="0.6" fill="none"/>
<rect x="170" y="490" width="645.15" height="170" fill="none" stroke="#000" stroke-width="2"/>
<path d="M164.65 496.21H170M164.65 510.82H170M164.65 525.43H170M164.65 540.04H170M164.65 554.65H170M164.65 569.26H170M164.65 583.87H170M164.65 598.48H170M164.65 613.09H170M164.65 627.7H170M164.65 642.31H170M164.65 656.92H170" stroke="#000" stroke-width="1.3" fill="none"/>
</g>
<text transform="translate(169.7 456.4)" font-family='"Liberation Sans", sans-serif' font-size="14.8" fill="#000" textLength="19" lengthAdjust="spacingAndGlyphs" stroke="#000" stroke-width="0.15" stroke-linejoin="round">27</text>
<text transform="translate(169.7 469.68)" font-family='"Liberation Sans", sans-serif' font-size="14.8" fill="#000" textLength="19" lengthAdjust="spacingAndGlyphs" stroke="#000" stroke-width="0.15" stroke-linejoin="round">24</text>
<text transform="translate(169.7 482.96)" font-family='"Liberation Sans", sans-serif' font-size="14.8" fill="#000" textLength="19" lengthAdjust="spacingAndGlyphs" stroke="#000" stroke-width="0.15" stroke-linejoin="round">21</text>
<text transform="translate(169.7 496.25)" font-family='"Liberation Sans", sans-serif' font-size="14.8" fill="#000" textLength="19" lengthAdjust="spacingAndGlyphs" stroke="#000" stroke-width="0.15" stroke-linejoin="round">18</text>
<text transform="translate(169.7 509.53)" font-family='"Liberation Sans", sans-serif' font-size="14.8" fill="#000" textLength="19" lengthAdjust="spacingAndGlyphs" stroke="#000" stroke-width="0.15" stroke-linejoin="round">15</text>
<text transform="translate(169.7 522.81)" font-family='"Liberation Sans", sans-serif' font-size="14.8" fill="#000" textLength="19" lengthAdjust="spacingAndGlyphs" stroke="#000" stroke-width="0.15" stroke-linejoin="round">12</text>
<text transform="translate(179.9 536.09)" font-family='"Liberation Sans", sans-serif' font-size="14.8" fill="#000" textLength="8.8" lengthAdjust="spacingAndGlyphs" stroke="#000" stroke-width="0.15" stroke-linejoin="round">9</text>
<text transform="translate(179.9 549.37)" font-family='"Liberation Sans", sans-serif' font-size="14.8" fill="#000" textLength="8.8" lengthAdjust="spacingAndGlyphs" stroke="#000" stroke-width="0.15" stroke-linejoin="round">6</text>
<text transform="translate(179.9 562.66)" font-family='"Liberation Sans", sans-serif' font-size="14.8" fill="#000" textLength="8.8" lengthAdjust="spacingAndGlyphs" stroke="#000" stroke-width="0.15" stroke-linejoin="round">3</text>
<text transform="translate(179.9 575.94)" font-family='"Liberation Sans", sans-serif' font-size="14.8" fill="#000" textLength="8.8" lengthAdjust="spacingAndGlyphs" stroke="#000" stroke-width="0.15" stroke-linejoin="round">0</text>
<text transform="translate(166.6 589.22)" font-family='"Liberation Sans", sans-serif' font-size="14.8" fill="#000" textLength="22" lengthAdjust="spacingAndGlyphs" stroke="#000" stroke-width="0.15" stroke-linejoin="round">-3</text>
<text transform="translate(166.6 602.5)" font-family='"Liberation Sans", sans-serif' font-size="14.8" fill="#000" textLength="22" lengthAdjust="spacingAndGlyphs" stroke="#000" stroke-width="0.15" stroke-linejoin="round">-6</text>
<text transform="translate(49 564) rotate(-90)" font-family='"Liberation Sans", sans-serif' font-size="21.5" fill="#fa3c3c" textLength="66" lengthAdjust="spacingAndGlyphs">2m Temp</text>
<text transform="translate(72.5 562.4) rotate(-90)" font-family='"Liberation Sans", sans-serif' font-size="21.5" fill="#e6af2d" textLength="71" lengthAdjust="spacingAndGlyphs">SFC Temp</text>
<text transform="translate(96 569) rotate(-90)" font-family='"Liberation Sans", sans-serif' font-size="21.5" fill="#00dc00" textLength="84.5" lengthAdjust="spacingAndGlyphs">dewpt Temp</text>
<text transform="translate(119.5 532.5) rotate(-90)" font-family='"Liberation Sans", sans-serif' font-size="21.5" fill="#000" textLength="20" lengthAdjust="spacingAndGlyphs">(C)</text>
</g>
<g id="p4">
<g clip-path="url(#c3)">
<path d="M196 742h7V678h-7zM206 742h7V707h-7zM216 742h7V727h-7zM226 742h7V699h-7zM236 742h7V738h-7zM246 742h7V741h-7zM256 742h7V741h-7zM266 742h7V711h-7zM276 742h7V714h-7zM286 742h7V732h-7zM296 742h7V737h-7zM306 742h7V733h-7zM316 742h7V735h-7zM326 742h7V741h-7zM336 742h7V741h-7zM346 742h7V741h-7zM356 742h7V741h-7zM366 742h7V741h-7zM376 742h7V741h-7zM386 742h7V741h-7zM396 742h7V741h-7zM406 742h7V741h-7zM416 742h7V723h-7zM426 742h7V741h-7zM436 742h7V729h-7zM446 742h7V686h-7zM456 742h7V710h-7zM466 742h7V656h-7zM476 742h7V632h-7zM486 742h7V634h-7zM496 742h7V617h-7zM506 742h7V638h-7zM516 742h7V613h-7zM526 742h7V614h-7zM536 742h7V693h-7zM546 742h7V656h-7zM556 742h7V675h-7zM566 742h7V667h-7zM576 742h7V637h-7zM586 742h7V619h-7zM596 742h7V613h-7zM606 742h7V614h-7zM616 742h7V615h-7zM626 742h7V613h-7zM636 742h7V613h-7zM646 742h7V613h-7zM656 742h7V613h-7zM666 742h7V613h-7zM676 742h7V613h-7zM686 742h7V613h-7zM696 742h7V613h-7zM706 742h7V613h-7zM716 742h7V613h-7zM726 742h7V613h-7zM736 742h7V613h-7zM746 742h7V613h-7zM756 742h7V613h-7zM766 742h7V613h-7zM776 742h7V613h-7zM786 742h7V613h-7zM796 742h7V613h-7zM806 742h7V613h-7zM816 742h7V613h-7zM826 742h7V613h-7zM836 742h7V613h-7zM845 742h7V613h-7zM855 742h7V613h-7zM865 742h7V613h-7zM875 742h7V613h-7zM885 742h7V613h-7zM895 742h7V613h-7zM905 742h7V613h-7zM915 742h7V613h-7zM925 742h7V613h-7zM935 742h7V613h-7zM945 742h7V613h-7zM955 742h7V613h-7z" fill="#00a0ff" shape-rendering="crispEdges"/>
<path d="M197 742.3h4V741.3h-4zM207 742.3h4V741.3h-4zM217 742.3h4V741.3h-4zM227 742.3h4V741.3h-4zM237 742.3h4V741.3h-4zM247 742.3h4V741.3h-4zM257 742.3h4V741.3h-4zM267 742.3h4V741.3h-4zM277 742.3h4V741.3h-4zM287 742.3h4V741.3h-4zM297 742.3h4V741.3h-4zM307 742.3h4V741.3h-4zM317 742.3h4V741.3h-4zM327 742.3h4V741.3h-4zM337 742.3h4V741.3h-4zM347 742.3h4V741.3h-4zM357 742.3h4V741.3h-4zM367 742.3h4V741.3h-4zM377 742.3h4V741.3h-4zM387 742.3h4V741.3h-4zM397 742.3h4V741.3h-4zM407 742.3h4V741.3h-4zM417 742.3h4V741.3h-4zM427 742.3h4V741.3h-4zM437 742.3h4V741.3h-4zM447 742.3h4V741.3h-4zM457 742.3h4V741.3h-4zM467 742.3h4V741.3h-4zM477 742.3h4V741.3h-4zM487 742.3h4V741.3h-4zM497 742.3h4V741.3h-4zM507 742.3h4V741.3h-4zM517 742.3h4V741.3h-4zM527 742.3h4V741.3h-4zM537 742.3h4V741.3h-4zM547 742.3h4V741.3h-4zM557 742.3h4V741.3h-4zM567 742.3h4V741.3h-4zM577 742.3h4V741.3h-4zM587 742.3h4V741.3h-4zM597 742.3h4V729h-4zM607 742.3h4V722h-4zM617 742.3h4V704h-4zM627 742.3h4V703h-4zM637 742.3h4V718h-4zM647 742.3h4V721h-4zM657 742.3h4V694h-4zM667 742.3h4V685h-4zM677 742.3h4V657h-4zM687 742.3h4V627h-4zM697 742.3h4V619h-4zM707 742.3h4V620h-4zM717 742.3h4V615h-4zM727 742.3h4V613h-4zM737 742.3h4V613h-4zM747 742.3h4V613h-4zM757 742.3h4V613h-4zM767 742.3h4V615h-4zM777 742.3h4V613h-4zM787 742.3h4V620h-4zM797 742.3h4V623h-4zM807 742.3h4V626h-4zM817 742.3h4V638h-4zM827 742.3h4V624h-4zM837 742.3h4V622h-4zM846 742.3h4V629h-4zM856 742.3h4V626h-4zM866 742.3h4V649h-4zM876 742.3h4V666h-4zM886 742.3h4V654h-4zM896 742.3h4V685h-4zM906 742.3h4V736h-4zM916 742.3h4V740h-4zM926 742.3h4V741.3h-4zM936 742.3h4V741.3h-4zM946 742.3h4V741.3h-4zM956 742.3h4V720h-4z" fill="#e6af2d"/>
</g>
<g transform="scale(1.17647 0.90909)">
<rect x="170" y="660" width="645.15" height="170" fill="none" stroke="#000" stroke-width="2"/>
<path d="M164.65 674.19H170M164.65 709.56H170M164.65 744.92H170M164.65 780.29H170M164.65 815.65H170" stroke="#000" stroke-width="1.3" fill="none"/>
<path d="M170 674.19H815.15M170 709.56H815.15M170 744.92H815.15M170 780.29H815.15M170 815.65H815.15" stroke="#9c9c9c" stroke-width="1.85" stroke-dasharray="2.1 6.9" stroke-dashoffset="0.6" fill="none"/>
<path d="M263.33 829.99V660M365.18 829.99V660M467.02 829.99V660M568.87 829.99V660M670.72 829.99V660M772.57 829.99V660" stroke="#9c9c9c" stroke-width="1.57" stroke-dasharray="2.1 6.9" stroke-dashoffset="0.6" fill="none"/>
</g>
<text transform="translate(160.1 618.2)" font-family='"Liberation Sans", sans-serif' font-size="14.8" fill="#000" textLength="28.6" lengthAdjust="spacingAndGlyphs" stroke="#000" stroke-width="0.15" stroke-linejoin="round">100</text>
<text transform="translate(169.7 650.35)" font-family='"Liberation Sans", sans-serif' font-size="14.8" fill="#000" textLength="19" lengthAdjust="spacingAndGlyphs" stroke="#000" stroke-width="0.15" stroke-linejoin="round">75</text>
<text transform="translate(169.7 682.5)" font-family='"Liberation Sans", sans-serif' font-size="14.8" fill="#000" textLength="19" lengthAdjust="spacingAndGlyphs" stroke="#000" stroke-width="0.15" stroke-linejoin="round">50</text>
<text transform="translate(169.7 714.65)" font-family='"Liberation Sans", sans-serif' font-size="14.8" fill="#000" textLength="19" lengthAdjust="spacingAndGlyphs" stroke="#000" stroke-width="0.15" stroke-linejoin="round">25</text>
<text transform="translate(179.9 746.8)" font-family='"Liberation Sans", sans-serif' font-size="14.8" fill="#000" textLength="8.8" lengthAdjust="spacingAndGlyphs" stroke="#000" stroke-width="0.15" stroke-linejoin="round">0</text>
<text transform="translate(26 721) rotate(-90)" font-family='"Liberation Sans", sans-serif' font-size="22" fill="#00a0ff" textLength="88" lengthAdjust="spacingAndGlyphs">Total Clouds</text>
<text transform="translate(73 717.6) rotate(-90)" font-family='"Liberation Sans", sans-serif' font-size="21.5" fill="#e6af2d" textLength="80.6" lengthAdjust="spacingAndGlyphs">Low Clouds</text>
<text transform="translate(119.5 687.5) rotate(-90)" font-family='"Liberation Sans", sans-serif' font-size="21.5" fill="#000" textLength="20.5" lengthAdjust="spacingAndGlyphs">(%)</text>
</g>
<g id="p5">
<g clip-path="url(#c4)">
<path d="M656 909.1h7V908h-7zM666 909.1h7V897h-7zM676 909.1h7V892h-7zM686 909.1h7V871h-7zM696 909.1h7V860h-7zM706 909.1h7V850h-7zM716 909.1h7V832h-7zM726 909.1h7V810h-7zM736 909.1h7V796h-7zM746 909.1h7V769h-7zM756 909.1h7V762h-7zM766 909.1h7V770h-7zM776 909.1h7V793h-7zM786 909.1h7V766h-7zM796 909.1h7V828h-7zM806 909.1h7V845h-7zM816 909.1h7V877h-7zM826 909.1h7V903h-7z" fill="#1ec81e"/>
</g>
<g transform="scale(1.17647 0.90909)">
<rect x="170" y="829.99" width="645.15" height="170" fill="none" stroke="#000" stroke-width="2"/>
<path d="M164.65 830.17H170M164.65 864.11H170M164.65 898.04H170M164.65 931.98H170M164.65 965.91H170M164.65 999.79H170" stroke="#000" stroke-width="1.3" fill="none"/>
<path d="M170 830.17H815.15M170 864.11H815.15M170 898.04H815.15M170 931.98H815.15M170 965.91H815.15M170 999.79H815.15" stroke="#989898" stroke-width="1.15" stroke-dasharray="2.3 6.7" stroke-dashoffset="0.6" fill="none"/>
<path d="M263.33 999.99V829.99M365.18 999.99V829.99M467.02 999.99V829.99M568.87 999.99V829.99M670.72 999.99V829.99M772.57 999.99V829.99" stroke="#989898" stroke-width="0.98" stroke-dasharray="2.3 6.7" stroke-dashoffset="0.6" fill="none"/>
</g>
<text transform="translate(179.9 914.2)" font-family='"Liberation Sans", sans-serif' font-size="14.8" fill="#000" textLength="8.8" lengthAdjust="spacingAndGlyphs" stroke="#000" stroke-width="0.15" stroke-linejoin="round">0</text>
<text transform="translate(153.8 790.85)" font-family='"Liberation Sans", sans-serif' font-size="14.8" fill="#000" textLength="35" lengthAdjust="spacingAndGlyphs" stroke="#000" stroke-width="0.15" stroke-linejoin="round">0.96</text>
<text transform="translate(153.8 821.7)" font-family='"Liberation Sans", sans-serif' font-size="14.8" fill="#000" textLength="35" lengthAdjust="spacingAndGlyphs" stroke="#000" stroke-width="0.15" stroke-linejoin="round">0.72</text>
<text transform="translate(153.8 852.55)" font-family='"Liberation Sans", sans-serif' font-size="14.8" fill="#000" textLength="35" lengthAdjust="spacingAndGlyphs" stroke="#000" stroke-width="0.15" stroke-linejoin="round">0.48</text>
<text transform="translate(153.8 883.4)" font-family='"Liberation Sans", sans-serif' font-size="14.8" fill="#000" textLength="35" lengthAdjust="spacingAndGlyphs" stroke="#000" stroke-width="0.15" stroke-linejoin="round">0.24</text>
<text transform="translate(165.6 760)" font-family='"Liberation Sans", sans-serif' font-size="14.8" fill="#000" textLength="23" lengthAdjust="spacingAndGlyphs" stroke="#000" stroke-width="0.15" stroke-linejoin="round">1.2</text>
<text transform="translate(137.6 888.8) rotate(-90)" font-family='"Liberation Sans", sans-serif' font-size="21.5" fill="#000" textLength="121.3" lengthAdjust="spacingAndGlyphs">1hr Precip (mm)</text>
<text transform="translate(13.5 823.8) scale(1.2 1)" font-family='"DejaVu Sans Light", "DejaVu Sans", "Liberation Sans", sans-serif' font-size="15.4" fill="#14be14" textLength="87.5" lengthAdjust="spacing" stroke="#14be14" stroke-width="0.2" stroke-linejoin="round">Total   Rain</text>
<text transform="translate(13.5 860.6) scale(1.3 1)" font-family='"DejaVu Sans Light", "DejaVu Sans", "Liberation Sans", sans-serif' font-size="15.4" fill="#3c3cff" textLength="64.62" lengthAdjust="spacing" stroke="#3c3cff" stroke-width="0.2" stroke-linejoin="round">Snow/1h</text>
<text transform="translate(52.5 889.6) scale(1.3 1)" font-family='"DejaVu Sans Light", "DejaVu Sans", "Liberation Sans", sans-serif' font-size="15.4" fill="#3c3cff" textLength="34.62" lengthAdjust="spacing" stroke="#3c3cff" stroke-width="0.2" stroke-linejoin="round">[cm]</text>
</g>
</svg>
</body></html>
